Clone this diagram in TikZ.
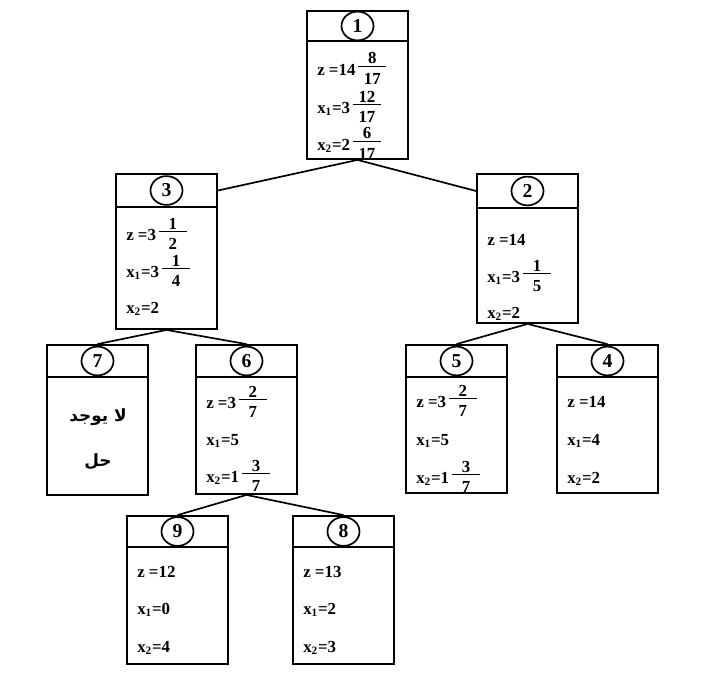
\documentclass[tikz,border=0pt]{standalone}
\usepackage{fontspec}
\setmainfont{Liberation Serif}
\newfontfamily\arabicfont[Script=Arabic]{DejaVu Sans}
\TeXXeTstate=1
\usetikzlibrary{fit,shapes.geometric}
\usetikzlibrary{positioning}
\newcommand\fr[2]{\,\raisebox{-7pt}{\vbox{\hbox to 20pt{\hss#1\hss}\kern1pt\hrule height 1.3pt\kern4.5pt\hbox to 20pt{\hss#2\hss}}}}

\begin{document}
\begin{tikzpicture}[x=0.025cm,y=-0.025cm,
  headbox/.style={draw,line width=1.3pt,inner sep=0pt},
  bodybox/.style={draw,line width=1.3pt,inner sep=0pt},
  numc/.style={draw,ellipse,line width=1.2pt,inner sep=0pt,minimum width=0.8cm,minimum height=0.72cm,font=\bfseries\fontsize{14}{16}\selectfont},
  val/.style={anchor=base west,inner sep=0pt,font=\bfseries\fontsize{12}{14}\selectfont},
  arab/.style={inner sep=0pt,font=\arabicfont\bfseries\fontsize{12}{14}\selectfont},
  link/.style={line width=1.2pt}]
  \useasboundingbox (0,0) rectangle (707,677);

  \foreach \n/\l/\t/\h/\b in {1/307/11/41/159, 3/116/174/207/329, 2/477/174/208/323,
    7/47/345/377/495, 6/196/345/377/494, 5/406/345/377/493, 4/557/345/377/493,
    9/127/516/547/664, 8/293/516/547/664}{
    \node[headbox,fit={(\l,\t) (\l+101,\h)}] (h\n) {};
    \node[bodybox,fit={(\l,\h) (\l+101,\b)}] (b\n) {};
    \node[numc] at (h\n.center) (c\n) {\n};
  }

  \node[val] at (317,75) (z1) {z =14\fr{8}{17}};
  \node[val] at (317,113) (xo1) {x\textsubscript{1}=3\fr{12}{17}};
  \node[val] at (317,150) (xt1) {x\textsubscript{2}=2\fr{6}{17}};

  \node[val] at (126,240) (z3) {z =3\fr{1}{2}};
  \node[val] at (126,277) (xo3) {x\textsubscript{1}=3\fr{1}{4}};
  \node[val] at (126,313) (xt3) {x\textsubscript{2}=2};

  \node[val] at (487,245) (z2) {z =14};
  \node[val] at (487,282) (xo2) {x\textsubscript{1}=3\fr{1}{5}};
  \node[val] at (487,318) (xt2) {x\textsubscript{2}=2};

  \node[arab] at (98,417) (n7) {\beginR لا يوجد\endR};
  \node[arab] at (98,462) (s7) {\beginR حل\endR};

  \node[val] at (206,408) (z6) {z =3\fr{2}{7}};
  \node[val] at (206,445) (xo6) {x\textsubscript{1}=5};
  \node[val] at (206,482) (xt6) {x\textsubscript{2}=1\fr{3}{7}};

  \node[val] at (416,407) (z5) {z =3\fr{2}{7}};
  \node[val] at (416,445) (xo5) {x\textsubscript{1}=5};
  \node[val] at (416,483) (xt5) {x\textsubscript{2}=1\fr{3}{7}};

  \node[val] at (567,407) (z4) {z =14};
  \node[val] at (567,445) (xo4) {x\textsubscript{1}=4};
  \node[val] at (567,483) (xt4) {x\textsubscript{2}=2};

  \node[val] at (137,577) (z9) {z =12};
  \node[val] at (137,614) (xo9) {x\textsubscript{1}=0};
  \node[val] at (137,652) (xt9) {x\textsubscript{2}=4};

  \node[val] at (303,577) (z8) {z =13};
  \node[val] at (303,614) (xo8) {x\textsubscript{1}=2};
  \node[val] at (303,652) (xt8) {x\textsubscript{2}=3};

  \draw[link] (b1.south) -- (h3.east);
  \draw[link] (b1.south) -- (h2.west);
  \draw[link] (b3.south) -- (h7.north);
  \draw[link] (b3.south) -- (h6.north);
  \draw[link] (b2.south) -- (h5.north);
  \draw[link] (b2.south) -- (h4.north);
  \draw[link] (b6.south) -- (h9.north);
  \draw[link] (b6.south) -- (h8.north);
\end{tikzpicture}
\end{document}
